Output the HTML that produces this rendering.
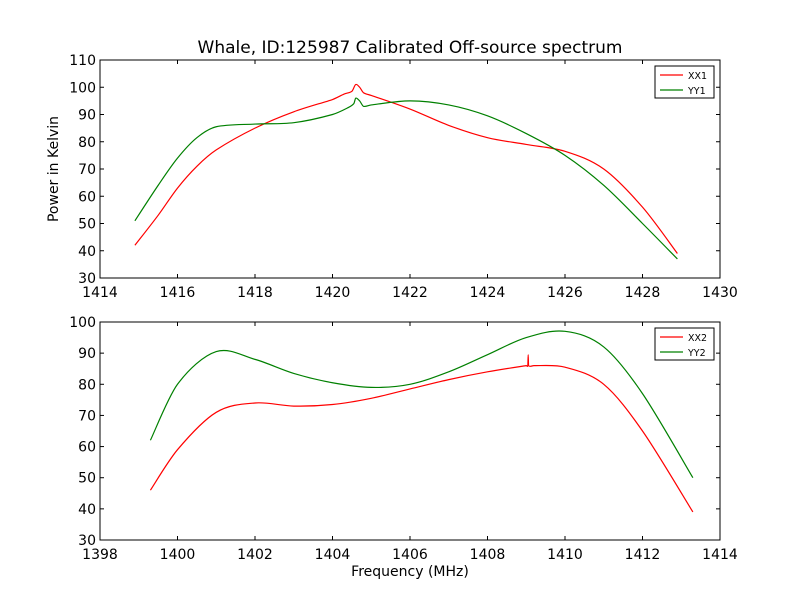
<!DOCTYPE html>
<html><head><meta charset="utf-8"><style>
body{margin:0;background:#fff;}
svg{font-family:"DejaVu Sans","Liberation Sans",sans-serif;}
</style></head><body>
<svg id="chart" width="800" height="600">
<rect width="800" height="600" fill="#fff"/>
<text x="410" y="53" font-size="17" text-anchor="middle">Whale, ID:125987 Calibrated Off-source spectrum</text>
<text transform="translate(58,169) rotate(-90)" font-size="14" text-anchor="middle">Power in Kelvin</text>
<text x="410" y="576" font-size="14" text-anchor="middle">Frequency (MHz)</text>
<g id="g1"></g><g id="g2"></g>
</svg>
<script>
const xx1F=[1414.9,1415.5,1416,1416.5,1417,1418,1419,1420,1420.3,1420.5,1420.6,1420.7,1420.8,1421,1422,1423,1424,1425,1426,1427,1428,1428.9];
const xx1V=[42,53,63,71,77,85,91,95.5,97.5,98.5,101,100,98,97,92,86,81.5,79,76.5,70,56,39];
const yy1F=[1414.9,1415.5,1416,1416.5,1417,1418,1419,1420,1420.4,1420.55,1420.6,1420.7,1420.8,1421,1422,1423,1424,1425,1426,1427,1428,1428.9];
const yy1V=[51,64,74,81.5,85.5,86.5,87,90,92.5,94,96,95,93,93.5,95,93.5,89.5,83,75,64,50,37];
const xx2F=[1399.3,1400,1401,1402,1403,1404,1405,1406,1407,1408,1409,1409.04,1409.05,1409.06,1409.2,1410,1411,1412,1413.3];
const xx2V=[46,59,71,74,73,73.5,75.5,78.5,81.5,84,86,86,89.5,86,86,85.5,80,65,39];
const yy2F=[1399.3,1400,1401,1402,1403,1404,1405,1406,1407,1408,1409,1410,1411,1412,1413.3];
const yy2V=[62,80,90.5,88,83.5,80.5,79,80,84,89.5,95,97,92,77,50];
const xTicks1=[1414,1416,1418,1420,1422,1424,1426,1428,1430];
const yTicks1=[30,40,50,60,70,80,90,100,110];
const xTicks2=[1398,1400,1402,1404,1406,1408,1410,1412,1414];
const yTicks2=[30,40,50,60,70,80,90,100];
const NS="http://www.w3.org/2000/svg";
function mk(p,t,a){const e=document.createElementNS(NS,t);for(const k in a)e.setAttribute(k,a[k]);p.appendChild(e);return e;}
function smooth(pts){
 let d='M'+pts[0][0].toFixed(1)+','+pts[0][1].toFixed(1);
 for(let i=0;i<pts.length-1;i++){
  const p0=pts[Math.max(0,i-1)],p1=pts[i],p2=pts[i+1],p3=pts[Math.min(pts.length-1,i+2)];
  const w=p2[0]-p1[0];
  let t1=(p2[0]-p0[0])/6, t2=(p3[0]-p1[0])/6;
  let s1=1,s2=1;
  if(t1>w/3)s1=(w/3)/t1;
  if(t2>w/3)s2=(w/3)/t2;
  const c1=[p1[0]+t1*s1,p1[1]+(p2[1]-p0[1])/6*s1];
  const c2=[p2[0]-t2*s2,p2[1]-(p3[1]-p1[1])/6*s2];
  d+='C'+c1.map(v=>v.toFixed(2)).join(',')+' '+c2.map(v=>v.toFixed(2)).join(',')+' '+p2[0].toFixed(2)+','+p2[1].toFixed(2);
 }
 return d;
}
function panel(g,top,bot,xmin,xmax,ymin,ymax,xt,yt,series,pfx){
 const L=100,R=720;
 const sx=v=>L+(v-xmin)/(xmax-xmin)*(R-L), sy=v=>bot-(v-ymin)/(ymax-ymin)*(bot-top);
 series.forEach(s=>{
  const pts=s.f.map((f,i)=>[sx(f),sy(s.v[i])]);
  const p=mk(g,'path',{d:smooth(pts),fill:'none',stroke:s.c,'stroke-width':1.2,'stroke-linejoin':'round'});
  
  });
 const fr=mk(g,'rect',{x:L,y:top,width:R-L,height:bot-top,fill:'none',stroke:'#000'});
 
 
 xt.forEach(v=>{const x=sx(v);
  mk(g,'line',{x1:x,x2:x,y1:bot,y2:bot-4,stroke:'#000'});mk(g,'line',{x1:x,x2:x,y1:top,y2:top+4,stroke:'#000'});
  const t=mk(g,'text',{x:x,y:bot+19,'font-size':14,'text-anchor':'middle'});t.textContent=v;
  
  });
 yt.forEach(v=>{const y=sy(v);
  mk(g,'line',{x1:L,x2:L+4,y1:y,y2:y,stroke:'#000'});mk(g,'line',{x1:R,x2:R-4,y1:y,y2:y,stroke:'#000'});
  const t=mk(g,'text',{x:L-4,y:y+5,'font-size':14,'text-anchor':'end'});t.textContent=v;
  
  });
 const lx=655,ly=top+6;
 const lg=mk(g,'g',{});
 
 
 mk(lg,'rect',{x:lx,y:ly,width:59,height:32,fill:'#fff',stroke:'#000'});
 series.forEach((s,i)=>{const y=ly+9+i*15;
  mk(lg,'line',{x1:lx+5,x2:lx+28,y1:y,y2:y,stroke:s.c,'stroke-width':1.2});
  const t=mk(lg,'text',{x:lx+33,y:y+4,'font-size':9.5});t.textContent=s.n.toUpperCase();
  
  });
}
panel(document.getElementById('g1'),60,278,1414,1430,30,110,xTicks1,yTicks1,
 [{f:xx1F,v:xx1V,c:'#ff0000',n:'xx1'},{f:yy1F,v:yy1V,c:'#008000',n:'yy1'}],'top');
panel(document.getElementById('g2'),322,540,1398,1414,30,100,xTicks2,yTicks2,
 [{f:xx2F,v:xx2V,c:'#ff0000',n:'xx2'},{f:yy2F,v:yy2V,c:'#008000',n:'yy2'}],'bottom');
</script>
</body></html>
